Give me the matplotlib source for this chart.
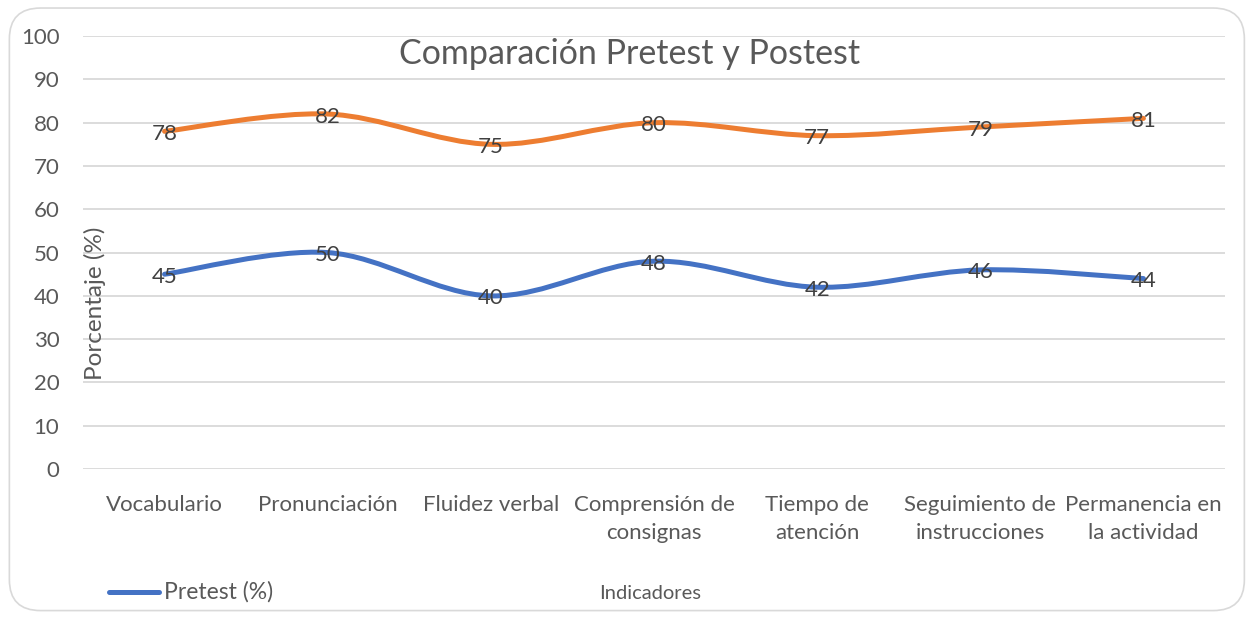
import numpy as np
import matplotlib.pyplot as plt
from matplotlib.path import Path
from matplotlib.patches import PathPatch, FancyBboxPatch
from matplotlib.lines import Line2D

plt.rcParams['font.family'] = ['Lato', 'DejaVu Sans']

categorias = ["Vocabulario", "Pronunciación", "Fluidez verbal", "Comprensión de\nconsignas",
              "Tiempo de\natención", "Seguimiento de\ninstrucciones", "Permanencia en\nla actividad"]
pretest = [45, 50, 40, 48, 42, 46, 44]
postest = [78, 82, 75, 80, 77, 79, 81]

azul = "#4472C4"
naranja = "#ED7D31"
gris_texto = "#595959"


def curva_suave(x, y):
    # curva tipo Excel (Catmull-Rom como Bezier cubicas)
    x = np.asarray(x, float)
    y = np.asarray(y, float)
    pts = np.column_stack([x, y])
    n = len(pts)
    verts = [pts[0]]
    codes = [Path.MOVETO]
    for i in range(n - 1):
        p0 = pts[i - 1] if i > 0 else pts[i]
        p1 = pts[i]
        p2 = pts[i + 1]
        p3 = pts[i + 2] if i + 2 < n else pts[i + 1]
        c1 = p1 + (p2 - p0) / 6
        c2 = p2 - (p3 - p1) / 6
        verts += [c1, c2, p2]
        codes += [Path.CURVE4] * 3
    return Path(verts, codes)


fig = plt.figure(figsize=(12.5, 6.18), dpi=100)
ax = fig.add_axes([0.0664, 0.241, 0.9136, 0.7006])

x = np.arange(len(categorias))
for serie, color in [(pretest, azul), (postest, naranja)]:
    patch = PathPatch(curva_suave(x, serie), facecolor="none", edgecolor=color,
                      lw=3.6, capstyle="round", joinstyle="round", zorder=3)
    ax.add_patch(patch)
    for xi, v in zip(x, serie):
        ax.text(xi, v - 0.6, str(v), ha="center", va="center", fontsize=16,
                color="#404040", zorder=4)

ax.set_xlim(-0.5, len(categorias) - 0.5)
ax.set_ylim(0, 100)
ax.set_yticks(range(0, 101, 10))
ax.set_xticks(x)
ax.set_xticklabels(categorias, fontsize=16, color=gris_texto, linespacing=1.5)
ax.tick_params(axis="y", labelsize=16, labelcolor=gris_texto, length=0, pad=17)
ax.tick_params(axis="x", length=0, pad=19)
ax.grid(axis="y", color="#D9D9D9", lw=1.3)
ax.set_axisbelow(True)
for s in ax.spines.values():
    s.set_visible(False)

fig.text(0.504, 0.913, "Comparación Pretest y Postest", ha="center", va="center",
         fontsize=24.5, color=gris_texto)
fig.text(0.076, 0.51, "Porcentaje (%)", rotation=90, ha="center", va="center",
         fontsize=17.5, color=gris_texto)
fig.text(0.52, 0.04, "Indicadores", ha="center", va="center", fontsize=14.5,
         color=gris_texto)

# leyenda (solo se ve Pretest)
fig.add_artist(Line2D([0.0875, 0.127], [0.042, 0.042], color=azul, lw=3.6,
                      solid_capstyle="round"))
fig.text(0.131, 0.042, "Pretest (%)", ha="left", va="center", fontsize=16.5,
         color=gris_texto)

borde = FancyBboxPatch((0.0075, 0.012), 0.988, 0.975, boxstyle="round,pad=0,rounding_size=0.025",
                       transform=fig.transFigure, facecolor="none", edgecolor="#D9D9D9",
                       lw=1.2, mutation_aspect=2.0)
fig.add_artist(borde)

fig.savefig("out.png", dpi=100)
